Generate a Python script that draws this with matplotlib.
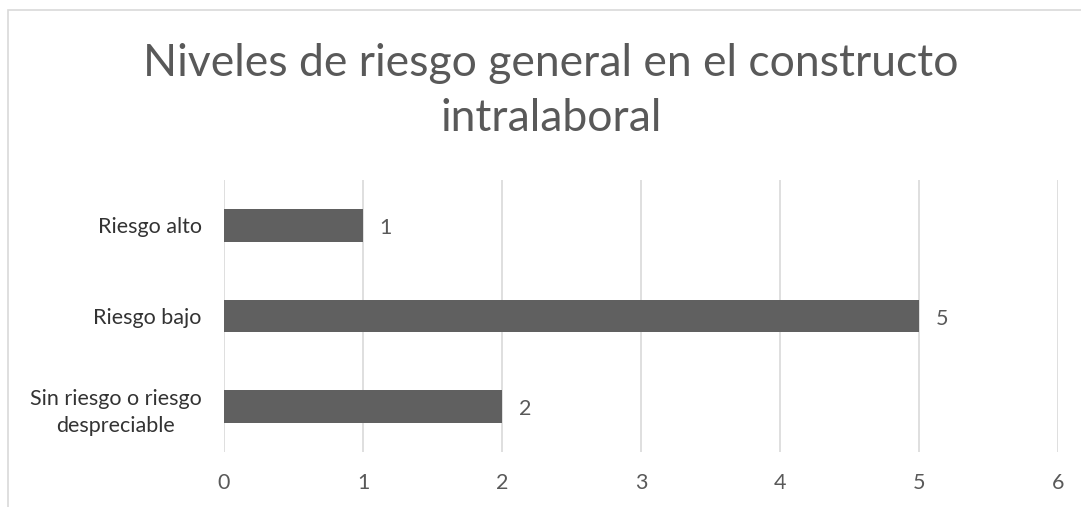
import matplotlib.pyplot as plt
from matplotlib.patches import Rectangle

categories = ["Riesgo alto", "Riesgo bajo", "Sin riesgo o riesgo\ndespreciable"]
values = [1, 5, 2]
x_ticks = [0, 1, 2, 3, 4, 5, 6]
title = "Niveles de riesgo general en el constructo\nintralaboral"

plt.rcParams['font.family'] = ['Lato', 'DejaVu Sans']
text_color = '#595959'
bar_color = '#606060'
grid_color = '#d9d9d9'

fig = plt.figure(figsize=(10.81, 5.07), dpi=100)

# chart frame (cropped on the right and bottom)
fig.patches.append(Rectangle((8 / 1081, -0.1), 1.2, 1 - 10 / 507 + 0.1,
                             transform=fig.transFigure, fill=False,
                             edgecolor=grid_color, linewidth=1.2))

ax = fig.add_axes([224 / 1081, 55 / 507, (1058 - 224) / 1081, (452 - 180) / 507])

ypos = list(range(len(categories)))
ax.barh(ypos, values, height=0.36, color=bar_color, zorder=3)
ax.set_ylim(len(categories) - 0.5, -0.5)
ax.set_xlim(0, 6)
ax.set_xticks(x_ticks)
ax.set_yticks(ypos)
ax.set_yticklabels(categories, multialignment='center', linespacing=1.45)

for y, v in zip(ypos, values):
    ax.text(v + 0.12, y + 0.03, str(v), va='center', ha='left', fontsize=15.5, color=text_color)

ax.grid(axis='x', color=grid_color, linewidth=1.2, zorder=0)
for s in ax.spines.values():
    s.set_visible(False)
ax.tick_params(axis='both', length=0, labelsize=15.5, labelcolor=text_color)
ax.tick_params(axis='x', pad=15)
ax.tick_params(axis='y', pad=16)
for lab in ax.get_yticklabels():
    lab.set_color('#333333')

fig.text(551 / 1081, 1 - 91 / 507, title, ha='center', va='center',
         fontsize=32, color=text_color, linespacing=1.45)

fig.savefig('out.png', dpi=100)
